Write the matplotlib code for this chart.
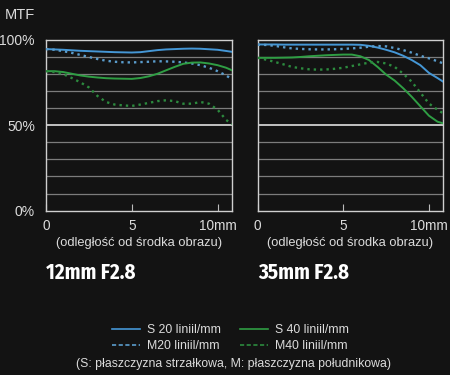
import matplotlib
matplotlib.use('Agg')
import matplotlib.pyplot as plt
from matplotlib.lines import Line2D

plt.rcParams['font.family'] = ['Liberation Sans', 'DejaVu Sans']

# ---- dane ----
pos_mm = [0, 0.5, 1, 1.5, 2, 2.5, 3, 3.5, 4, 4.5, 5, 5.5, 6, 6.5, 7, 7.5,
          8, 8.5, 9, 9.5, 10, 10.5, 10.84]

s20_12 = [94.4, 94.2, 94.0, 93.7, 93.4, 93.2, 93.0, 92.8, 92.6, 92.5, 92.4, 92.6,
          93.2, 93.8, 94.2, 94.4, 94.6, 94.7, 94.6, 94.3, 94.0, 93.3, 92.8]
m20_12 = [94.4, 94.0, 93.2, 92.2, 91.0, 89.8, 88.6, 87.6, 87.0, 86.7, 86.6, 86.8,
          87.0, 87.3, 87.2, 87.0, 86.6, 86.0, 85.0, 83.5, 81.5, 79.0, 76.7]
s40_12 = [81.5, 81.5, 81.0, 80.0, 79.0, 78.3, 77.8, 77.4, 77.2, 77.1, 77.0, 77.5,
          78.5, 80.0, 82.0, 84.0, 85.8, 86.5, 86.6, 86.0, 85.0, 83.5, 82.0]
m40_12 = [81.5, 81.0, 79.8, 77.5, 75.0, 72.0, 67.0, 63.5, 62.0, 61.5, 61.2, 62.0,
          63.0, 64.0, 64.5, 64.0, 62.5, 62.5, 63.5, 62.5, 59.0, 53.0, 50.6]

s20_35 = [97.1, 97.1, 97.1, 97.0, 97.0, 97.0, 97.0, 97.0, 97.0, 97.0, 97.0, 97.0,
          96.9, 96.3, 95.3, 94.0, 92.5, 90.5, 88.0, 85.0, 80.5, 77.5, 75.3]
m20_35 = [97.0, 96.8, 96.3, 95.5, 94.8, 94.5, 94.3, 94.2, 94.2, 94.3, 94.5, 94.8,
          95.2, 95.8, 96.2, 96.0, 95.0, 93.8, 92.3, 90.5, 89.0, 87.3, 86.0]
s40_35 = [89.3, 89.3, 89.3, 89.4, 89.5, 89.8, 90.2, 90.5, 90.8, 91.0, 91.2, 91.2,
          90.2, 88.0, 84.0, 79.5, 76.0, 71.5, 66.5, 61.0, 55.5, 52.0, 51.0]
m40_35 = [89.3, 88.2, 86.9, 85.5, 84.0, 83.2, 82.6, 82.4, 82.5, 82.9, 83.5, 84.5,
          85.5, 86.5, 86.9, 86.0, 84.0, 80.0, 75.3, 69.0, 62.6, 59.0, 56.8]

lenses = ['12mm F2.8', '35mm F2.8']
labels = ['S 20 liniil/mm', 'M20 liniil/mm', 'S 40 liniil/mm', 'M40 liniil/mm']
xticks = [0, 5, 10]
xtick_labels = ['0', '5', '10mm']
ytick_labels = {0: '0%', 50: '50%', 100: '100%'}

BG = '#131313'
TXT = '#dcdcdc'
BLUE = '#4597d6'
BLUE_DOT = '#5a9ccc'
GREEN = '#2f9e44'
GREEN_DOT = '#2c8a3e'

W, H = 450, 375
fig = plt.figure(figsize=(4.5, 3.75), dpi=100, facecolor=BG)


def px_axes(x0, y0, x1, y1):
    return fig.add_axes([x0 / W, 1 - y1 / H, (x1 - x0) / W, (y1 - y0) / H])


ax1 = px_axes(46, 39.5, 232, 210.7)
ax2 = px_axes(257.7, 39.5, 443.3, 210.7)

data = [(s20_12, m20_12, s40_12, m40_12), (s20_35, m20_35, s40_35, m40_35)]
dots = (0, (1, 1.7))

for ax, (s20, m20, s40, m40), lens in zip([ax1, ax2], data, lenses):
    ax.set_facecolor(BG)
    ax.set_xlim(0, 10.84)
    ax.set_ylim(0, 100)
    for g in range(10, 100, 10):
        if g == 50:
            ax.axhline(g, color='#d0d0d0', lw=1.3, zorder=1)
        else:
            ax.axhline(g, color='#7c7c7c', lw=0.9, zorder=1)
    ax.plot(pos_mm, s20, color=BLUE, lw=1.4, zorder=3)
    ax.plot(pos_mm, m20, color=BLUE_DOT, lw=1.7, ls=dots, zorder=3)
    ax.plot(pos_mm, s40, color=GREEN, lw=1.4, zorder=3)
    ax.plot(pos_mm, m40, color=GREEN_DOT, lw=1.7, ls=dots, zorder=3)
    for sp in ax.spines.values():
        sp.set_color('#cfcfcf')
        sp.set_linewidth(1.0)
    ax.set_xticks(xticks)
    ax.set_xticklabels(xtick_labels)
    ax.tick_params(axis='x', direction='in', length=5, color='#bbbbbb',
                   labelcolor=TXT, labelsize=9.8, pad=6)
    ax.set_xlabel('(odległość od środka obrazu)', color=TXT, fontsize=9.3,
                  labelpad=3)
    ax.text(0, -0.364, lens, transform=ax.transAxes, color='white',
            fontsize=15, fontweight='bold',
            family=['Fira Sans Condensed', 'DejaVu Sans'],
            ha='left', va='center')

ax1.set_yticks(list(ytick_labels.keys()))
ax1.set_yticklabels(list(ytick_labels.values()))
ax1.tick_params(axis='y', length=0, labelcolor=TXT, labelsize=10, pad=8)
ax2.set_yticks([])

fig.text(5 / W, 1 - 15 / H, 'MTF', color=TXT, fontsize=10.5, va='center', ha='left')

handles = [Line2D([], [], color=BLUE, lw=1.2),
           Line2D([], [], color=BLUE_DOT, lw=1.2, ls=(0, (2.5, 1.5))),
           Line2D([], [], color=GREEN, lw=1.2),
           Line2D([], [], color=GREEN_DOT, lw=1.2, ls=(0, (2.5, 1.5)))]
leg = fig.legend(handles, labels, ncol=2, frameon=False, fontsize=8.8,
                 loc='center left', bbox_to_anchor=(112 / W, 1 - 338 / H),
                 borderpad=0, borderaxespad=0,
                 handlelength=2.3, handletextpad=0.55, columnspacing=1.55,
                 labelspacing=0.3)
for t in leg.get_texts():
    t.set_color(TXT)

fig.text(233 / W, 1 - 364 / H,
         '(S: płaszczyzna strzałkowa, M: płaszczyzna południkowa)',
         color=TXT, fontsize=8.8, ha='center', va='center')

fig.savefig('out.png', dpi=100, facecolor=BG)
